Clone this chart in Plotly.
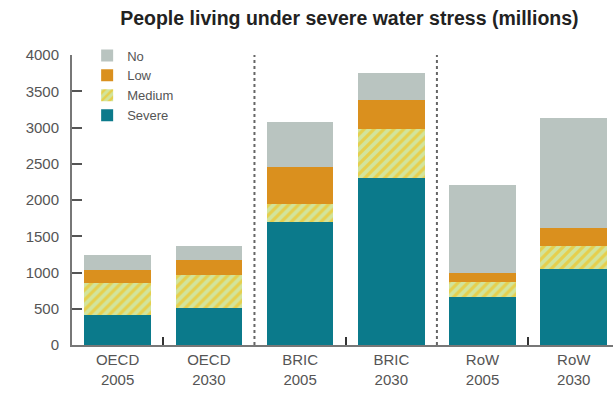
import plotly.graph_objects as go

categories = ["OECD<br>2005", "OECD<br>2030", "BRIC<br>2005", "BRIC<br>2030", "RoW<br>2005", "RoW<br>2030"]
severe = [410, 510, 1690, 2310, 660, 1045]
medium = [440, 450, 250, 675, 210, 315]
low = [180, 210, 510, 400, 120, 260]
no = [210, 190, 620, 370, 1220, 1515]
y_ticks = [0, 500, 1000, 1500, 2000, 2500, 3000, 3500, 4000]

x = list(range(len(categories)))

fig = go.Figure()
fig.add_bar(x=x, y=severe, name="Severe", marker=dict(color="#0b7a8b", line=dict(width=0)))
fig.add_bar(x=x, y=medium, name="Medium",
            marker=dict(color="#d2e49c", line=dict(width=0),
                        pattern=dict(shape="/", fgcolor="#e6cf4c", bgcolor="#d2e49c", size=7, solidity=0.45, fillmode="replace")))
fig.add_bar(x=x, y=low, name="Low", marker=dict(color="#da901e", line=dict(width=0)))
fig.add_bar(x=x, y=no, name="No", marker=dict(color="#b9c4c0", line=dict(width=0)))

for sx in [1.5, 3.5]:
    fig.add_shape(type="line", xref="x", yref="paper", x0=sx, x1=sx, y0=0, y1=1,
                  line=dict(color="#666666", width=2, dash="dot"))

fig.update_layout(
    width=613, height=396,
    barmode="stack", bargap=0.27,
    paper_bgcolor="white", plot_bgcolor="white",
    margin=dict(l=72, r=0, t=55, b=51),
    font=dict(family="Liberation Sans, Arial, sans-serif", color="#444444", size=15),
    title=dict(text="<b>People living under severe water stress (millions)</b>",
               x=0.57, xanchor="center", y=0.955, yanchor="middle",
               font=dict(size=19.5, color="#222222")),
    showlegend=True,
    legend=dict(x=0.028, y=1.05, xanchor="left", yanchor="top", traceorder="reversed",
                bgcolor="rgba(0,0,0,0)", font=dict(size=13, color="#555555"),
                itemwidth=30, tracegroupgap=0),
    xaxis=dict(range=[-0.5, 5.43], tickvals=x, ticktext=categories, ticks="", showline=True,
               linecolor="#777777", linewidth=2, showgrid=False, zeroline=False,
               tickfont=dict(size=15, color="#555555"),
               minor=dict(tickvals=[0.5, 2.5, 4.5], ticks="inside", ticklen=8, tickcolor="#333333", tickwidth=2)),
    yaxis=dict(range=[0, 4000], tickvals=y_ticks, ticks="inside", ticklen=10, tickcolor="#555555", tickwidth=2,
               showline=True, linecolor="#777777", linewidth=2, showgrid=False, zeroline=False,
               tickfont=dict(size=15, color="#555555"), ticklabelstandoff=8),
)

fig.write_html("out.html")
